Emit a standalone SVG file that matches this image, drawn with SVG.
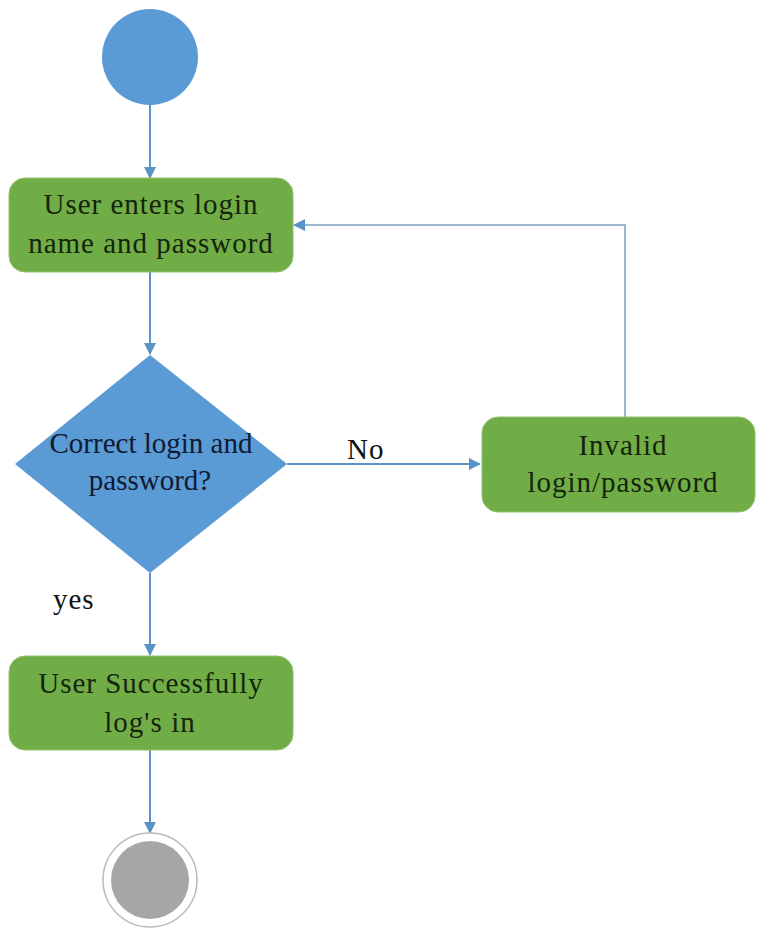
<svg xmlns="http://www.w3.org/2000/svg" width="757" height="930" viewBox="0 0 757 930">
<style>
.act{fill:#70ad47;stroke:#8cc46a;stroke-width:1}
.t{font-family:"Liberation Serif","DejaVu Serif","Times New Roman",serif;font-size:29px;fill:#15240c;text-anchor:middle;letter-spacing:1px}
.td{font-family:"Liberation Serif","DejaVu Serif","Times New Roman",serif;font-size:29px;fill:#0f1a33;text-anchor:middle}
.lbl{font-family:"Liberation Serif","DejaVu Serif","Times New Roman",serif;font-size:29px;fill:#111;letter-spacing:1px}
.c{fill:none;stroke:#5b93c8;stroke-width:2}
.cr{fill:none;stroke:#9db6cc;stroke-width:2}
</style>
<defs>
<marker id="ah" viewBox="0 0 12 12" refX="11" refY="6" markerWidth="12" markerHeight="12" markerUnits="userSpaceOnUse" orient="auto">
<path d="M0,0 L12,6 L0,12 Z" fill="#5b93c8"/>
</marker>
</defs>
<rect width="757" height="930" fill="#fff"/>
<g id="connectors">
<line class="c" x1="150" y1="105" x2="150" y2="178" marker-end="url(#ah)"/>
<line class="c" x1="150" y1="272" x2="150" y2="354" marker-end="url(#ah)"/>
<line class="c" x1="287" y1="464" x2="480" y2="464" marker-end="url(#ah)"/>
<polyline class="cr" points="625,417 625,225 294,225" marker-end="url(#ah)"/>
<line class="c" x1="150" y1="573" x2="150" y2="655" marker-end="url(#ah)"/>
<line class="c" x1="150" y1="750" x2="150" y2="833" marker-end="url(#ah)"/>
<text class="lbl" x="347" y="459">No</text>
<text class="lbl" x="53" y="609">yes</text>
</g>
<g id="start">
<circle cx="150" cy="57" r="48" fill="#5b9bd5"/>
</g>
<g id="enter">
<rect class="act" x="9" y="178" width="284" height="94" rx="16"/>
<text class="t" x="151" y="214">User enters login</text>
<text class="t" x="151" y="253">name and password</text>
</g>
<g id="decision">
<polygon points="150,355 287,464 150,573 15,464" fill="#5b9bd5"/>
<text class="td" x="151" y="453">Correct login and</text>
<text class="td" x="150" y="490">password?</text>
</g>
<g id="invalid">
<rect class="act" x="482" y="417" width="273" height="95" rx="16"/>
<text class="t" x="623" y="455">Invalid</text>
<text class="t" x="623" y="492">login/password</text>
</g>
<g id="success">
<rect class="act" x="9" y="656" width="284" height="94" rx="16"/>
<text class="t" x="151" y="693">User Successfully</text>
<text class="t" x="150" y="732">log's in</text>
</g>
<g id="end">
<circle cx="150" cy="880" r="47" fill="#fff" stroke="#bbb" stroke-width="1.5"/>
<circle cx="150" cy="880" r="39" fill="#a6a6a6"/>
</g>
</svg>
